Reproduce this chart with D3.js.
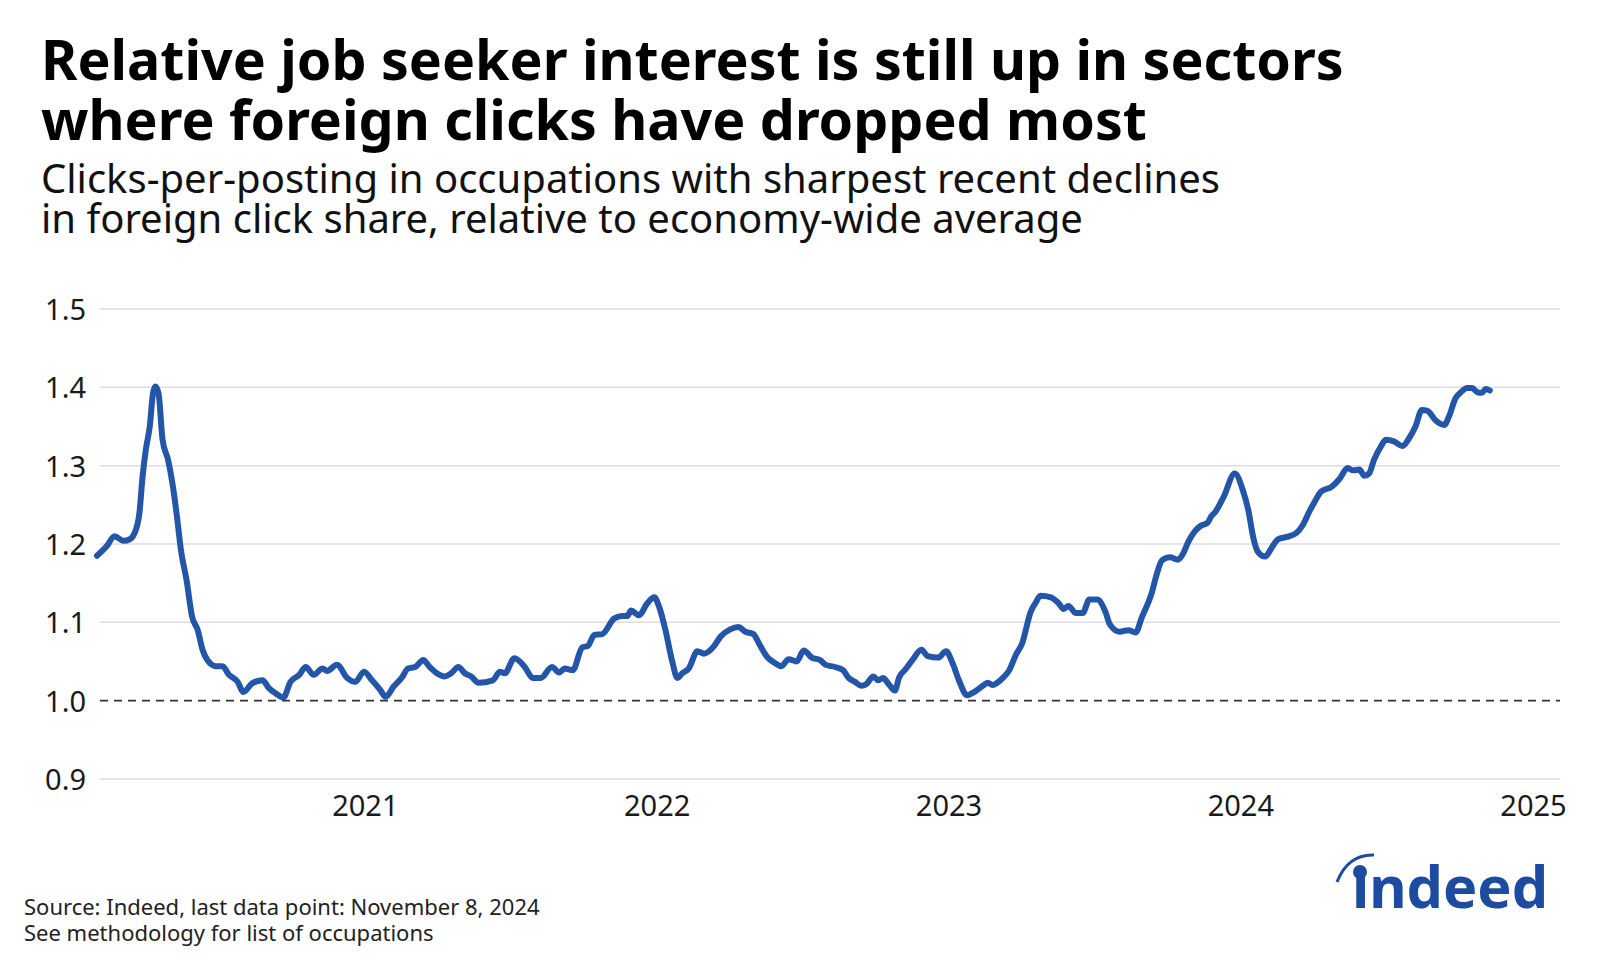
<!DOCTYPE html>
<html>
<head>
<meta charset="utf-8">
<script src="https://cdn.jsdelivr.net/npm/d3@7"></script>
<style>
  html, body { margin: 0; padding: 0; background: #fff; }
  svg { display: block; font-family: "Noto Sans", sans-serif; }
</style>
</head>
<body>
<div id="chart"></div>
<script>
// relative clicks-per-posting
const dates = [
  "2020-02-01","2020-02-13","2020-02-23","2020-03-05","2020-03-13","2020-03-19","2020-03-25","2020-03-29",
  "2020-04-02","2020-04-07","2020-04-11","2020-04-14","2020-04-18","2020-04-23","2020-04-30","2020-05-06",
  "2020-05-11","2020-05-16","2020-05-23","2020-05-30","2020-06-06","2020-06-12","2020-06-18","2020-06-29",
  "2020-07-07","2020-07-15","2020-07-26","2020-08-02","2020-08-13","2020-08-26","2020-09-03","2020-09-12",
  "2020-09-21","2020-09-30","2020-10-11","2020-10-19","2020-10-29","2020-11-09","2020-11-15","2020-11-27",
  "2020-12-10","2020-12-20","2020-12-31","2021-01-10","2021-01-20","2021-01-27","2021-02-06","2021-02-16",
  "2021-02-24","2021-03-05","2021-03-15","2021-03-23","2021-04-01","2021-04-11","2021-04-19","2021-04-28",
  "2021-05-06","2021-05-14","2021-05-23","2021-06-10","2021-06-19","2021-06-25","2021-07-07","2021-07-20",
  "2021-07-30","2021-08-09","2021-08-23","2021-09-01","2021-09-08","2021-09-18","2021-09-30","2021-10-07",
  "2021-10-15","2021-10-25","2021-11-09","2021-11-19","2021-11-25","2021-11-30","2021-12-10","2021-12-20",
  "2021-12-29","2022-01-04","2022-01-12","2022-01-20","2022-01-27","2022-02-02","2022-02-10","2022-02-21",
  "2022-03-01","2022-03-14","2022-03-22","2022-04-03","2022-04-13","2022-04-22","2022-05-02","2022-05-10",
  "2022-05-19","2022-05-29","2022-06-06","2022-06-15","2022-06-25","2022-07-04","2022-07-14","2022-07-24",
  "2022-07-31","2022-08-12","2022-08-22","2022-08-29","2022-09-06","2022-09-14","2022-09-20","2022-09-29",
  "2022-10-05","2022-10-11","2022-10-19","2022-10-26","2022-10-31","2022-11-09","2022-11-17","2022-11-28",
  "2022-12-06","2022-12-19","2022-12-29","2023-01-06","2023-01-14","2023-01-24","2023-02-02","2023-02-13",
  "2023-02-19","2023-02-25","2023-03-10","2023-03-18","2023-03-26","2023-04-03","2023-04-14","2023-04-20",
  "2023-04-26","2023-05-09","2023-05-19","2023-05-25","2023-05-31","2023-06-09","2023-06-18","2023-06-26",
  "2023-07-06","2023-07-16","2023-07-22","2023-08-03","2023-08-14","2023-08-23","2023-08-31","2023-09-12",
  "2023-09-18","2023-09-25","2023-10-05","2023-10-15","2023-10-21","2023-10-28","2023-11-05","2023-11-12",
  "2023-11-21","2023-11-26","2023-11-30","2023-12-11","2023-12-25","2024-01-04","2024-01-11","2024-01-17",
  "2024-01-23","2024-02-01","2024-02-09","2024-02-17","2024-02-28","2024-03-11","2024-03-19","2024-03-28",
  "2024-04-03","2024-04-11","2024-04-24","2024-05-04","2024-05-14","2024-05-21","2024-05-29","2024-06-04",
  "2024-06-10","2024-06-16","2024-06-25","2024-07-01","2024-07-11","2024-07-22","2024-07-30","2024-08-07",
  "2024-08-15","2024-08-22","2024-09-01","2024-09-12","2024-09-18","2024-09-26","2024-10-02","2024-10-11",
  "2024-10-17","2024-10-23","2024-10-29","2024-11-03","2024-11-08"
];
const values = [
  1.185,1.197,1.210,1.204,1.206,1.214,1.239,1.286,
  1.320,1.350,1.392,1.401,1.392,1.333,1.307,1.273,
  1.235,1.192,1.154,1.107,1.090,1.065,1.052,1.044,
  1.044,1.033,1.024,1.011,1.022,1.026,1.016,1.009,
  1.004,1.024,1.033,1.043,1.033,1.041,1.038,1.046,
  1.029,1.024,1.037,1.026,1.014,1.005,1.018,1.029,
  1.041,1.043,1.052,1.043,1.035,1.031,1.035,1.043,
  1.035,1.031,1.023,1.026,1.037,1.035,1.054,1.043,
  1.029,1.029,1.043,1.036,1.041,1.039,1.068,1.070,
  1.084,1.085,1.105,1.108,1.108,1.115,1.109,1.124,
  1.132,1.120,1.090,1.052,1.029,1.035,1.041,1.063,
  1.060,1.070,1.082,1.091,1.094,1.088,1.085,1.071,
  1.056,1.048,1.044,1.053,1.050,1.064,1.055,1.052,
  1.046,1.043,1.039,1.029,1.024,1.019,1.021,1.031,
  1.026,1.029,1.020,1.013,1.029,1.041,1.052,1.065,
  1.057,1.055,1.063,1.048,1.026,1.007,1.011,1.019,
  1.023,1.020,1.029,1.039,1.058,1.073,1.114,1.125,
  1.134,1.132,1.124,1.117,1.121,1.112,1.112,1.129,
  1.129,1.114,1.097,1.088,1.090,1.087,1.107,1.137,
  1.160,1.179,1.183,1.180,1.187,1.203,1.216,1.223,
  1.227,1.236,1.240,1.260,1.290,1.269,1.243,1.209,
  1.190,1.184,1.195,1.206,1.209,1.214,1.224,1.243,
  1.254,1.267,1.273,1.283,1.297,1.294,1.295,1.287,
  1.290,1.307,1.325,1.333,1.331,1.325,1.335,1.350,
  1.371,1.370,1.358,1.352,1.363,1.386,1.393,1.399,
  1.399,1.394,1.393,1.398,1.396
];
const yTicks = [0.9, 1.0, 1.1, 1.2, 1.3, 1.4, 1.5];
const xTicks = ["2021-01-01", "2022-01-01", "2023-01-01", "2024-01-01", "2025-01-01"];
const titleLines = [
  "Relative job seeker interest is still up in sectors",
  "where foreign clicks have dropped most"
];
const subtitleLines = [
  "Clicks-per-posting in occupations with sharpest recent declines",
  "in foreign click share, relative to economy-wide average"
];
const sourceLines = [
  "Source: Indeed, last data point: November 8, 2024",
  "See methodology for list of occupations"
];

const W = 1600, H = 960;
const parse = d3.timeParse("%Y-%m-%d");
const data = dates.map((d, i) => ({ date: parse(d), value: values[i] }));

const svg = d3.select("#chart").append("svg")
  .attr("width", W)
  .attr("height", H);

// header
svg.selectAll("text.title")
  .data(titleLines)
  .enter()
  .append("text")
  .attr("class", "title")
  .attr("x", 41)
  .attr("y", (d, i) => 80 + i * 60)
  .attr("font-size", 55.5)
  .attr("font-weight", 700)
  .attr("fill", "#000")
  .text(d => d);

svg.selectAll("text.subtitle")
  .data(subtitleLines)
  .enter()
  .append("text")
  .attr("class", "subtitle")
  .attr("x", 41)
  .attr("y", (d, i) => 193 + i * 40)
  .attr("font-size", 40)
  .attr("fill", "#111")
  .text(d => d);

// plot
const plotLeft = 100, plotRight = 1560;
const x = d3.scaleTime()
  .domain([parse("2020-02-01"), parse("2025-01-01")])
  .range([97, 1533]);
const y = d3.scaleLinear()
  .domain([0.9, 1.5])
  .range([779, 309]);

const grid = svg.append("g");
grid.selectAll("line")
  .data(yTicks.filter(t => t !== 1.0))
  .enter()
  .append("line")
  .attr("x1", plotLeft)
  .attr("x2", plotRight)
  .attr("y1", d => y(d))
  .attr("y2", d => y(d))
  .attr("stroke", "#dedede")
  .attr("stroke-width", 1.5);

svg.append("line")
  .attr("x1", plotLeft)
  .attr("x2", plotRight)
  .attr("y1", y(1.0))
  .attr("y2", y(1.0))
  .attr("stroke", "#333")
  .attr("stroke-width", 1.6)
  .attr("stroke-dasharray", "8,6");

const yAxis = svg.append("g")
  .attr("transform", `translate(${plotLeft},0)`)
  .call(d3.axisLeft(y).tickValues(yTicks).tickFormat(d3.format(".1f")).tickSize(0).tickPadding(14));
yAxis.select(".domain").remove();
yAxis.selectAll("text")
  .attr("font-family", "Noto Sans, sans-serif")
  .attr("font-size", 29)
  .attr("fill", "#1a1a1a")
  .attr("dy", "0.36em");

const xAxis = svg.append("g")
  .attr("transform", `translate(0,${y(0.9)})`)
  .call(d3.axisBottom(x).tickValues(xTicks.map(parse)).tickFormat(d3.timeFormat("%Y")).tickSize(0).tickPadding(16));
xAxis.select(".domain").remove();
xAxis.selectAll("text")
  .attr("font-family", "Noto Sans, sans-serif")
  .attr("font-size", 29)
  .attr("fill", "#1a1a1a")
  .attr("dy", "0.71em");

const line = d3.line()
  .x(d => x(d.date))
  .y(d => y(d.value))
  .curve(d3.curveMonotoneX);

svg.append("path")
  .datum(data)
  .attr("d", line)
  .attr("fill", "none")
  .attr("stroke", "#2356a8")
  .attr("stroke-width", 6)
  .attr("stroke-linejoin", "round")
  .attr("stroke-linecap", "round");

// footer
svg.selectAll("text.source")
  .data(sourceLines)
  .enter()
  .append("text")
  .attr("class", "source")
  .attr("x", 24)
  .attr("y", (d, i) => 915 + i * 26)
  .attr("font-size", 22)
  .attr("fill", "#222")
  .text(d => d);

// indeed logo
const logo = svg.append("g").attr("fill", "#1c4ba0");
logo.append("text")
  .attr("x", 1352)
  .attr("y", 908)
  .attr("font-size", 58)
  .attr("font-weight", 700)
  .attr("textLength", 196)
  .attr("lengthAdjust", "spacingAndGlyphs")
  .text("\u0131ndeed");
logo.append("circle")
  .attr("cx", 1360)
  .attr("cy", 872)
  .attr("r", 7);
logo.append("path")
  .attr("d", "M1337,882 Q1348,854 1374,855")
  .attr("fill", "none")
  .attr("stroke", "#1c4ba0")
  .attr("stroke-width", 3);
</script>
</body>
</html>
